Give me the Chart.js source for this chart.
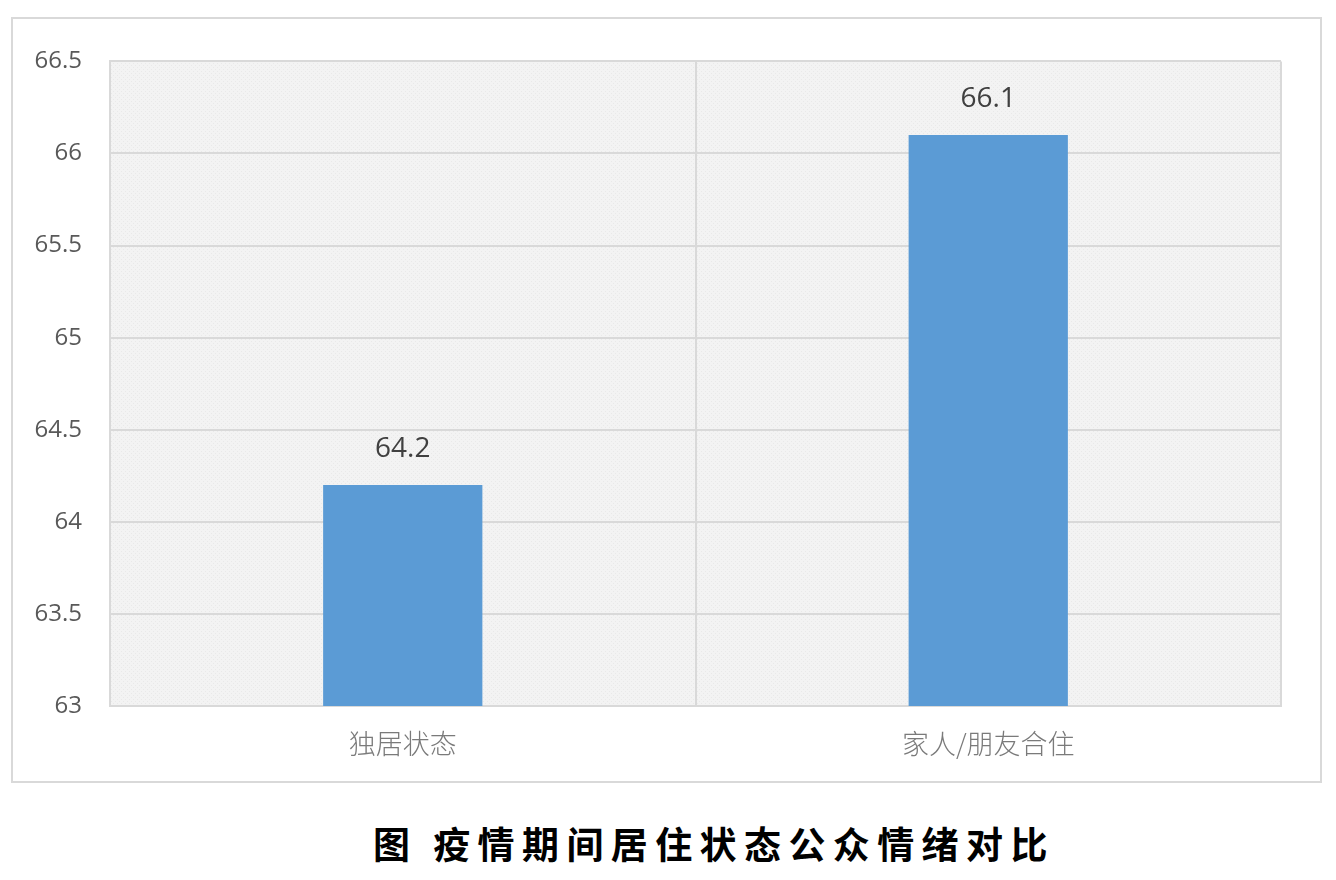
<!DOCTYPE html>
<html>
<head>
<meta charset="utf-8">
<script src="https://cdn.jsdelivr.net/npm/chart.js@4"></script>
<style>
  html, body { margin: 0; padding: 0; background: #fff; }
  body { width: 1336px; height: 880px; position: relative; overflow: hidden; }
  #box {
    position: absolute; left: 11px; top: 17px;
    width: 1311px; height: 766px; box-sizing: border-box;
    border: 2px solid #d9d9d9;
  }
  #box canvas { display: block; }
  #caption {
    position: absolute; left: 373px; top: 824px;
    font-family: "Noto Sans CJK SC", sans-serif; font-weight: 700;
    font-size: 37px; line-height: 38px; letter-spacing: 7.4px;
    color: #000; white-space: pre;
  }
</style>
</head>
<body>
<div id="box"><canvas id="chart" width="1307" height="762"></canvas></div>
<div id="caption">图 疫情期间居住状态公众情绪对比</div>
<script>
// Chart data
const categories = ['独居状态', '家人/朋友合住'];
const moodScores = [64.2, 66.1];
const yMin = 63;
const yMax = 66.5;
const yStep = 0.5;

// Light dotted fill for the plot area
function makePattern() {
    const p = document.createElement('canvas');
    p.width = 4;
    p.height = 4;
    const c = p.getContext('2d');
    c.fillStyle = '#f3f3f3';
    c.fillRect(0, 0, 4, 4);
    c.fillStyle = '#e9e9e9';
    c.fillRect(0, 0, 1, 1);
    c.fillRect(2, 2, 1, 1);
    return c.createPattern(p, 'repeat');
}

const plotBackground = {
    id: 'plotBackground',
    beforeDraw(chart) {
        const { ctx, chartArea } = chart;
        ctx.save();
        ctx.fillStyle = makePattern();
        ctx.fillRect(chartArea.left, chartArea.top, chartArea.width, chartArea.height);
        ctx.restore();
    }
};

// Value labels above the bars
const valueLabels = {
    id: 'valueLabels',
    afterDatasetsDraw(chart) {
        const { ctx } = chart;
        const meta = chart.getDatasetMeta(0);
        ctx.save();
        ctx.font = '28px "Open Sans", sans-serif';
        ctx.fillStyle = '#404040';
        ctx.textAlign = 'center';
        ctx.textBaseline = 'middle';
        meta.data.forEach((bar, i) => {
            ctx.fillText(String(moodScores[i]), bar.x, bar.y - 36);
        });
        ctx.restore();
    }
};

const ctx = document.getElementById('chart').getContext('2d');

new Chart(ctx, {
    type: 'bar',
    data: {
        labels: categories,
        datasets: [{
            data: moodScores,
            backgroundColor: '#5b9bd5',
            borderWidth: 0,
            barPercentage: 0.272,
            categoryPercentage: 1
        }]
    },
    options: {
        responsive: false,
        animation: false,
        layout: {
            padding: { left: 0, right: 39, top: 40, bottom: 0 }
        },
        plugins: {
            legend: { display: false },
            tooltip: { enabled: false }
        },
        scales: {
            x: {
                grid: {
                    offset: true,
                    color: '#d9d9d9',
                    lineWidth: 2,
                    drawTicks: false
                },
                border: { display: true, color: '#d9d9d9', width: 2 },
                ticks: {
                    padding: 22,
                    color: '#7a7a7a',
                    font: { family: '"Noto Sans CJK SC", sans-serif', size: 27, weight: 300 }
                },
                afterFit(scale) { scale.height = 75; }
            },
            y: {
                min: yMin,
                max: yMax,
                ticks: {
                    stepSize: yStep,
                    padding: 28,
                    color: '#595959',
                    font: { family: '"Open Sans", sans-serif', size: 24 },
                    callback: (value) => String(Number(value.toFixed(1)))
                },
                grid: {
                    color: '#d9d9d9',
                    lineWidth: 2,
                    drawTicks: false
                },
                border: { display: true, color: '#d9d9d9', width: 2 },
                afterFit(scale) { scale.width = 97; }
            }
        }
    },
    plugins: [plotBackground, valueLabels]
});
</script>
</body>
</html>
